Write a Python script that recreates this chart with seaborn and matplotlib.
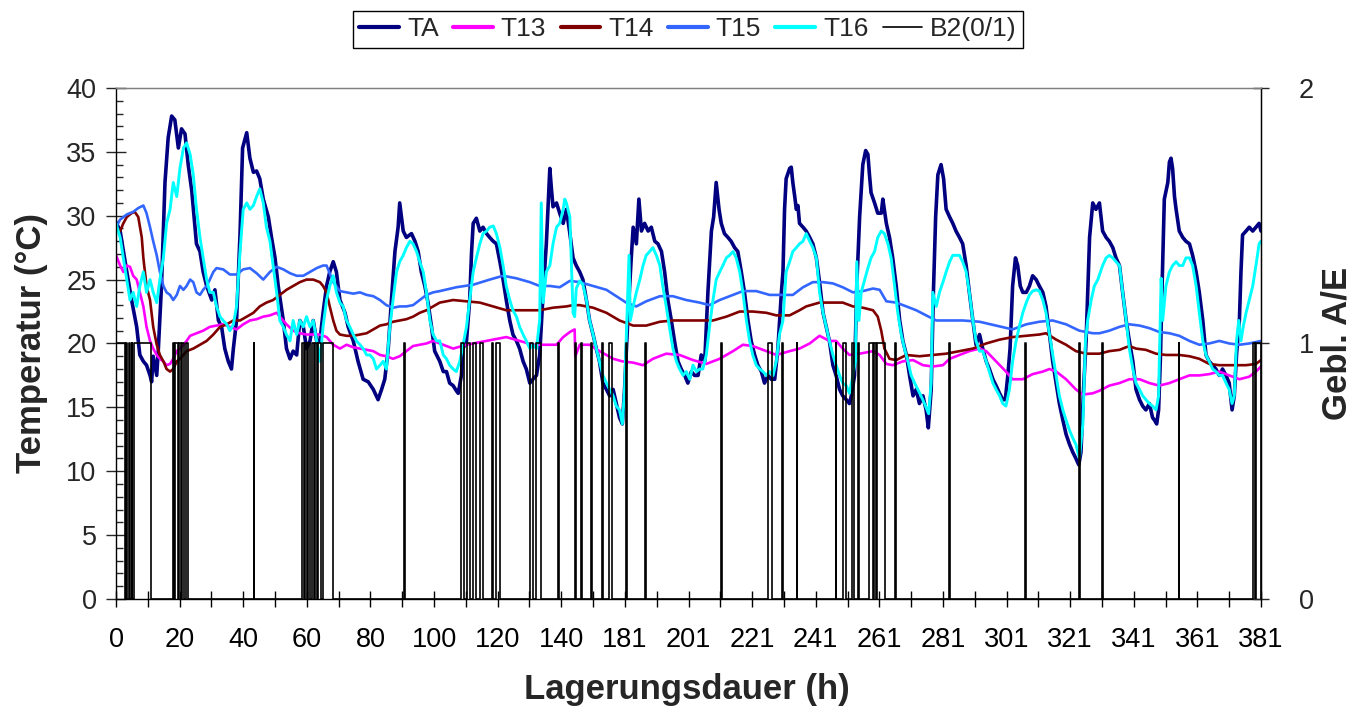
import numpy as np
import pandas as pd
import seaborn as sns
import matplotlib
matplotlib.use("Agg")
import matplotlib.pyplot as plt
from matplotlib.lines import Line2D
from matplotlib.ticker import MultipleLocator, FixedLocator

# ---------------- data (x = position on the category axis, 0..360) ----------------
x_tick_pos = list(range(0, 361, 20))
x_tick_labels = ['0', '20', '40', '60', '80', '100', '120', '140', '181', '201', '221',
                 '241', '261', '281', '301', '321', '341', '361', '381']

TA = [(0, 29.5), (1.3, 28.8), (3.4, 25.6), (4.9, 23.4), (6.5, 21.3), (7.5, 19.1), (8.6, 18.6),
      (9.6, 18.3), (10.7, 17.5), (11.2, 17.0), (11.7, 19.0), (12.8, 17.5), (13.3, 19.5),
      (14.3, 24.5), (15.4, 32.6), (16.4, 36.1), (17.5, 37.8), (18.5, 37.5), (19.6, 35.3),
      (20.6, 36.8), (21.7, 36.4), (22.7, 34.0), (23.8, 32.0), (25.3, 27.8), (26.4, 27.2),
      (27.4, 25.6), (28.5, 24.5), (30.1, 23.4), (31.1, 24.2), (32.2, 21.8), (33.2, 21.3),
      (34.2, 19.6), (35.3, 18.6), (36.3, 18.0), (36.9, 19.6), (37.9, 21.8), (39.0, 28.6),
      (39.8, 35.3), (41.1, 36.5), (42.1, 34.5), (43.2, 33.4), (44.2, 33.5), (45.2, 32.9),
      (46.3, 31.3), (47.9, 29.9), (48.9, 28.3), (50.0, 26.7), (51.0, 24.5), (52.6, 21.8),
      (53.6, 19.6), (54.7, 18.8), (55.7, 19.4), (56.8, 19.1), (57.8, 21.8), (58.9, 21.3),
      (59.9, 19.6), (61.0, 20.2), (62.0, 21.8), (63.1, 20.2), (64.1, 20.2), (65.1, 22.4),
      (66.2, 24.5), (67.2, 25.6), (68.3, 26.4), (69.3, 25.6), (70.4, 23.4), (72.0, 22.4),
      (73.0, 21.3), (74.6, 20.2), (76.1, 18.6), (77.7, 17.2), (79.3, 17.0), (80.9, 16.4),
      (82.4, 15.6), (83.5, 16.4), (84.5, 17.2), (85.6, 19.6), (86.6, 23.4), (87.7, 27.2),
      (88.7, 29.1), (89.2, 31.0), (90.3, 28.8), (91.3, 28.3), (92.9, 28.6), (94.0, 28.0),
      (95.0, 27.2), (96.0, 25.6), (97.1, 24.5), (98.1, 23.2), (99.2, 21.3), (100.2, 19.4),
      (101.8, 18.6), (102.9, 17.8), (103.9, 17.8), (104.9, 16.9), (106.0, 16.7), (107.0, 16.3),
      (107.6, 16.1), (108.6, 17.5), (109.1, 19.6), (110.2, 20.2), (111.2, 23.4), (111.8, 27.2),
      (112.3, 29.4), (113.3, 29.8), (114.4, 28.8), (115.4, 29.1), (116.5, 28.6), (117.5, 28.3),
      (118.6, 28.0), (119.6, 27.8), (120.7, 26.4), (121.7, 25.0), (122.7, 23.4), (123.8, 21.8),
      (124.8, 20.7), (125.9, 20.2), (126.9, 19.6), (128.0, 18.6), (129.0, 18.0), (130.1, 16.9),
      (131.1, 17.2), (132.2, 17.5), (133.2, 19.1), (134.3, 24.0), (135.3, 27.8), (136.4, 33.7),
      (136.9, 32.1), (137.4, 30.7), (138.5, 31.0), (139.5, 30.2), (140.6, 29.4), (141.6, 30.5),
      (142.7, 28.6), (143.7, 26.7), (144.7, 26.1), (145.8, 25.6), (146.8, 25.0), (147.9, 23.4),
      (148.9, 21.8), (150.0, 20.7), (151.0, 19.6), (152.0, 18.6), (153.1, 16.9), (154.2, 16.4),
      (155.2, 15.9), (156.3, 16.4), (157.3, 15.3), (158.3, 14.2), (159.2, 13.7), (159.9, 16.4),
      (160.9, 21.8), (162.0, 26.7), (162.6, 29.1), (163.6, 27.8), (164.4, 31.3), (165.2, 28.8),
      (166.2, 29.4), (167.3, 28.8), (168.3, 29.1), (169.4, 28.0), (170.4, 27.8), (171.5, 27.2),
      (172.5, 25.6), (173.5, 23.4), (174.6, 21.8), (175.6, 20.2), (176.7, 18.6), (177.7, 18.0),
      (178.8, 17.5), (179.8, 16.9), (180.9, 17.8), (181.9, 17.5), (183.0, 17.5), (184.0, 19.1),
      (185.1, 18.6), (186.1, 24.0), (187.2, 28.8), (187.9, 29.9), (188.7, 32.6), (189.6, 30.5),
      (190.3, 29.4), (191.3, 28.6), (192.4, 28.3), (193.4, 28.0), (194.5, 27.5), (195.5, 27.2),
      (196.6, 25.6), (197.6, 24.0), (198.7, 21.8), (199.7, 20.2), (200.8, 19.1), (201.8, 18.3),
      (202.9, 17.8), (203.9, 16.9), (205.0, 17.5), (206.0, 17.2), (207.1, 17.2), (208.1, 19.6),
      (209.2, 24.0), (209.7, 25.6), (210.2, 30.5), (210.7, 32.9), (211.8, 33.7), (212.3, 33.8),
      (212.8, 32.6), (213.4, 31.5), (213.9, 30.5), (214.4, 30.8), (214.9, 29.4), (216.0, 29.1),
      (217.0, 28.8), (218.1, 28.3), (219.1, 27.8), (220.2, 26.7), (221.2, 24.8), (222.3, 22.4),
      (223.3, 21.3), (224.3, 20.2), (225.4, 18.3), (226.4, 17.5), (227.5, 16.4), (228.5, 15.9),
      (229.6, 15.6), (230.6, 15.3), (231.2, 15.9), (232.2, 17.5), (232.9, 24.5), (233.8, 29.9),
      (234.8, 34.0), (235.7, 35.1), (236.4, 34.8), (236.9, 33.2), (237.4, 31.8), (238.5, 31.0),
      (239.5, 30.2), (240.6, 30.2), (241.1, 31.3), (242.2, 29.4), (243.2, 28.3), (244.2, 26.7),
      (245.3, 24.5), (246.4, 21.8), (247.4, 20.2), (248.5, 19.1), (249.5, 17.5), (250.6, 15.9),
      (251.6, 16.4), (252.6, 15.3), (253.7, 15.9), (254.7, 14.8), (255.4, 13.4), (256.3, 16.4),
      (257.0, 24.0), (257.7, 29.9), (258.4, 33.2), (259.4, 34.0), (260.2, 32.9), (261.0, 30.5),
      (262.1, 29.9), (263.1, 29.4), (264.1, 28.8), (265.2, 28.3), (266.2, 27.8), (267.3, 26.1),
      (268.3, 24.0), (269.4, 21.8), (270.4, 19.9), (271.5, 20.7), (272.5, 19.6), (273.6, 18.6),
      (274.6, 18.0), (275.7, 17.2), (276.7, 16.7), (277.8, 16.1), (278.8, 15.6), (279.6, 15.6),
      (280.4, 17.5), (281.1, 19.6), (281.9, 24.5), (282.8, 26.7), (283.5, 26.1), (284.3, 24.5),
      (285.1, 24.0), (286.2, 24.0), (287.2, 24.5), (288.2, 25.3), (289.3, 25.0), (290.3, 24.5),
      (291.4, 24.0), (292.4, 22.9), (293.5, 20.7), (294.5, 18.6), (295.6, 16.9), (296.6, 15.3),
      (297.7, 14.0), (298.7, 12.9), (299.8, 12.1), (300.8, 11.5), (301.8, 11.0), (302.7, 10.5),
      (303.4, 11.5), (304.2, 16.4), (305.0, 20.2), (306.1, 28.3), (307.1, 31.0), (308.1, 30.5),
      (309.2, 31.0), (310.2, 28.8), (311.3, 28.3), (312.3, 28.0), (313.4, 27.5), (314.4, 26.7),
      (315.5, 26.1), (316.5, 24.0), (317.6, 21.8), (318.6, 20.2), (319.7, 18.6), (320.7, 16.4),
      (321.8, 15.6), (322.8, 15.1), (323.8, 14.8), (324.9, 15.3), (325.9, 14.2), (326.5, 14.0),
      (327.2, 13.7), (327.8, 14.8), (328.4, 19.1), (328.9, 24.5), (329.6, 31.3), (330.7, 32.6),
      (331.2, 34.2), (331.7, 34.5), (332.2, 33.7), (332.8, 31.5), (333.3, 30.5), (334.3, 28.8),
      (335.4, 28.3), (336.4, 28.0), (337.5, 27.8), (338.5, 26.9), (339.6, 25.6), (340.6, 24.0),
      (341.7, 21.8), (342.7, 19.1), (343.7, 18.6), (344.8, 18.3), (345.8, 18.0), (346.9, 17.5),
      (347.9, 18.0), (349.0, 17.5), (350.0, 16.9), (350.9, 14.8), (351.6, 15.9), (352.3, 19.1),
      (353.2, 21.8), (353.7, 25.6), (354.2, 28.5), (355.3, 28.8), (356.3, 29.1), (357.4, 28.8),
      (358.4, 29.1), (359.4, 29.4), (360, 28.8)]

T13 = [(0, 26.9), (1.3, 26.1), (2.3, 25.6), (3.4, 26.1), (4.4, 26.0), (5.4, 25.3), (6.5, 25.0),
       (7.5, 24.0), (8.1, 23.4), (8.6, 22.9), (9.6, 21.3), (10.7, 20.2), (11.7, 19.6), (12.8, 19.1),
       (13.8, 18.8), (14.9, 18.6), (15.9, 18.3), (17.0, 18.4), (18.0, 18.8), (19.1, 19.4),
       (20.1, 19.6), (21.2, 19.9), (22.2, 20.2), (23.3, 20.6), (25.3, 20.8), (27.4, 21.0),
       (29.5, 21.3), (31.6, 21.4), (33.7, 21.5), (35.8, 21.3), (37.9, 21.1), (40.0, 21.5),
       (42.1, 21.8), (44.2, 21.9), (46.3, 22.1), (48.4, 22.2), (50.5, 22.4), (51.5, 22.1),
       (53.6, 21.5), (55.7, 21.0), (57.8, 20.8), (59.9, 20.7), (62.0, 20.7), (64.1, 20.7),
       (66.2, 20.5), (68.3, 19.9), (70.4, 19.6), (72.5, 19.9), (74.6, 19.7), (76.7, 19.6),
       (78.8, 19.5), (80.9, 19.4), (83.0, 19.1), (85.0, 19.0), (87.1, 18.8), (89.2, 19.0),
       (91.3, 19.4), (93.4, 19.8), (95.5, 19.9), (97.6, 20.0), (99.7, 20.2), (101.8, 20.0),
       (106.0, 19.6), (110.2, 19.9), (114.4, 20.1), (118.6, 20.3), (122.7, 20.5), (126.9, 20.2),
       (131.1, 19.9), (135.3, 19.9), (138.5, 19.9), (140.6, 20.5), (142.7, 20.9), (144.2, 21.1),
       (144.4, 19.0), (145.8, 19.9), (148.9, 19.9), (152.0, 19.4), (154.2, 19.1), (156.3, 18.8),
       (159.2, 18.6), (162.6, 18.5), (165.7, 18.3), (168.8, 18.8), (173.0, 19.2), (177.2, 19.1),
       (181.4, 18.7), (185.6, 18.4), (189.8, 18.8), (194.0, 19.4), (197.1, 19.9), (200.2, 19.8),
       (204.5, 19.4), (207.6, 19.1), (211.8, 19.4), (214.9, 19.6), (218.1, 20.0), (221.2, 20.6),
       (224.3, 20.2), (226.4, 20.2), (228.5, 19.6), (230.6, 19.1), (233.8, 19.2), (238.0, 19.4),
       (240.1, 19.1), (242.2, 18.4), (244.2, 18.3), (247.4, 18.6), (250.6, 18.7), (253.7, 18.3),
       (256.8, 18.2), (260.0, 18.3), (262.1, 18.8), (265.2, 19.1), (268.3, 19.4), (271.5, 19.6),
       (273.6, 19.4), (276.7, 18.6), (279.8, 17.8), (281.9, 17.2), (285.1, 17.2), (288.2, 17.6),
       (291.4, 17.8), (293.5, 18.0), (295.6, 17.8), (298.7, 17.2), (301.8, 16.4), (304.0, 16.0),
       (307.1, 16.1), (309.2, 16.3), (312.3, 16.7), (315.5, 16.9), (318.6, 17.2), (321.8, 17.2),
       (324.9, 16.9), (328.0, 16.7), (331.2, 16.9), (334.3, 17.2), (337.5, 17.5), (340.6, 17.5),
       (343.7, 17.6), (346.9, 17.8), (350.0, 17.5), (353.2, 17.2), (356.3, 17.4), (358.4, 17.8),
       (360, 18.2)]

T14 = [(0, 29.1), (1.3, 28.8), (2.3, 29.4), (3.4, 29.9), (4.9, 30.2), (5.9, 30.3), (7.0, 29.9),
       (8.1, 28.3), (8.6, 26.7), (9.6, 24.5), (10.7, 23.4), (11.7, 21.3), (12.8, 19.9), (13.8, 19.1),
       (14.9, 18.6), (15.9, 18.0), (17.0, 17.8), (18.0, 18.0), (19.1, 18.6), (20.1, 18.8),
       (21.2, 19.1), (22.2, 19.4), (24.3, 19.6), (26.4, 19.9), (28.5, 20.2), (30.6, 20.7),
       (32.7, 21.3), (34.8, 21.5), (36.9, 21.8), (39.0, 21.8), (41.1, 22.1), (43.2, 22.4),
       (45.2, 22.9), (47.3, 23.2), (49.4, 23.4), (51.5, 23.8), (53.6, 24.2), (55.7, 24.5),
       (57.8, 24.8), (59.9, 25.0), (62.0, 25.0), (64.1, 24.8), (65.1, 24.5), (66.2, 24.0),
       (67.2, 22.9), (68.3, 21.8), (69.3, 21.0), (70.4, 20.7), (72.5, 20.6), (74.6, 20.6),
       (76.7, 20.7), (78.8, 20.8), (80.9, 21.1), (83.0, 21.4), (85.0, 21.5), (87.1, 21.7),
       (89.2, 21.8), (91.3, 21.9), (93.4, 22.1), (95.5, 22.4), (97.6, 22.6), (99.7, 22.9),
       (101.8, 23.2), (106.0, 23.4), (110.2, 23.3), (114.4, 23.2), (118.6, 22.9), (122.7, 22.6),
       (128.0, 22.6), (133.2, 22.6), (137.4, 22.8), (141.6, 22.9), (143.7, 23.0), (145.8, 23.0),
       (150.0, 22.8), (154.2, 22.4), (158.3, 21.8), (162.6, 21.4), (166.7, 21.4), (171.0, 21.7),
       (175.1, 21.8), (179.3, 21.8), (183.5, 21.8), (187.7, 21.8), (191.9, 22.1), (196.1, 22.5),
       (200.2, 22.5), (204.5, 22.4), (207.6, 22.2), (211.8, 22.2), (214.9, 22.6), (217.0, 22.9),
       (221.2, 23.2), (225.4, 23.2), (228.5, 23.2), (231.7, 22.9), (234.8, 22.8), (238.0, 22.6),
       (239.5, 22.1), (240.6, 21.0), (241.6, 19.6), (243.2, 18.8), (245.3, 18.7), (248.5, 19.1),
       (252.6, 19.0), (256.8, 19.1), (261.0, 19.2), (265.2, 19.4), (269.4, 19.6), (273.6, 20.0),
       (277.8, 20.3), (281.9, 20.5), (286.2, 20.6), (290.3, 20.7), (292.4, 20.8), (295.6, 20.3),
       (298.7, 19.9), (301.8, 19.4), (305.0, 19.2), (309.2, 19.2), (312.3, 19.4), (315.5, 19.5),
       (318.6, 19.8), (320.7, 19.6), (323.8, 19.5), (327.0, 19.2), (330.1, 19.1), (334.3, 19.1),
       (337.5, 19.0), (340.6, 18.8), (343.7, 18.4), (346.9, 18.3), (351.1, 18.3), (355.3, 18.3),
       (358.4, 18.4), (360, 18.7)]

T15 = [(0, 29.1), (1.3, 29.7), (3.4, 30.1), (5.4, 30.3), (7.0, 30.6), (8.6, 30.8), (9.6, 30.2),
       (10.7, 29.1), (11.7, 28.0), (12.8, 26.9), (13.8, 25.6), (14.9, 24.5), (15.9, 24.0),
       (17.0, 23.8), (18.0, 23.4), (19.1, 23.8), (20.1, 24.5), (21.2, 24.2), (22.2, 24.5),
       (23.3, 25.0), (24.3, 24.8), (25.3, 24.0), (26.4, 23.8), (27.4, 24.2), (28.5, 24.5),
       (29.5, 25.0), (30.6, 25.6), (31.6, 25.9), (33.7, 25.8), (35.8, 25.4), (37.9, 25.4),
       (40.0, 25.8), (42.1, 25.9), (44.2, 25.5), (46.3, 25.0), (48.4, 25.6), (50.5, 26.0),
       (52.6, 25.8), (54.7, 25.5), (56.8, 25.3), (58.9, 25.3), (61.0, 25.6), (63.1, 25.9),
       (65.1, 26.1), (66.2, 26.1), (68.3, 24.8), (70.4, 24.1), (72.5, 24.0), (74.6, 23.9),
       (76.7, 24.0), (78.8, 23.8), (80.9, 23.7), (83.0, 23.4), (85.0, 23.0), (87.1, 22.8),
       (89.2, 22.9), (91.3, 22.9), (93.4, 23.0), (95.5, 23.4), (97.6, 23.8), (99.7, 24.0),
       (101.8, 24.1), (107.0, 24.4), (112.3, 24.6), (117.5, 25.0), (121.7, 25.3), (125.9, 25.1),
       (130.1, 24.8), (133.2, 24.5), (136.4, 24.5), (139.5, 24.4), (142.7, 24.9), (145.8, 24.8),
       (150.0, 24.5), (154.2, 24.2), (157.3, 23.7), (160.4, 23.2), (163.6, 22.9), (166.7, 23.3),
       (171.0, 23.7), (175.1, 23.7), (179.3, 23.4), (183.5, 23.2), (186.6, 23.0), (189.8, 23.4),
       (194.0, 23.8), (197.1, 24.1), (201.3, 24.1), (205.5, 23.8), (208.6, 23.8), (212.8, 23.8),
       (216.0, 24.4), (219.1, 24.8), (222.3, 24.8), (225.4, 24.7), (228.5, 24.4), (231.7, 24.0),
       (234.8, 24.1), (238.0, 24.3), (240.1, 24.2), (242.2, 23.3), (245.3, 23.2), (248.5, 22.9),
       (251.6, 22.6), (254.7, 22.2), (257.9, 21.8), (261.0, 21.8), (266.2, 21.8), (271.5, 21.7),
       (276.7, 21.4), (281.9, 21.1), (286.2, 21.5), (290.3, 21.7), (294.5, 21.8), (298.7, 21.5),
       (302.9, 21.0), (307.1, 20.8), (309.2, 20.8), (312.3, 21.0), (315.5, 21.3), (318.6, 21.5),
       (321.8, 21.4), (324.9, 21.2), (328.0, 20.9), (331.2, 20.8), (334.3, 20.6), (337.5, 20.2),
       (340.6, 19.9), (343.7, 20.0), (346.9, 20.2), (350.0, 20.0), (353.2, 19.9), (356.3, 20.0),
       (360, 20.2)]

T16 = [(0, 29.4), (1.3, 28.3), (2.3, 26.7), (3.4, 25.0), (4.4, 23.4), (5.4, 24.0), (6.5, 22.9),
       (7.5, 24.5), (8.6, 25.6), (9.6, 24.0), (10.7, 25.0), (11.7, 24.0), (12.8, 23.2), (13.8, 25.0),
       (14.9, 26.7), (15.9, 29.4), (17.0, 30.5), (18.0, 32.6), (19.1, 31.5), (20.1, 33.7),
       (21.2, 35.3), (22.2, 35.7), (23.3, 34.8), (24.3, 33.2), (25.3, 30.5), (26.4, 28.3),
       (27.4, 26.7), (28.5, 25.0), (29.5, 24.0), (30.6, 24.0), (31.6, 22.9), (32.7, 22.1),
       (33.7, 21.8), (34.8, 21.5), (35.8, 21.0), (36.9, 21.5), (37.9, 22.9), (39.0, 27.2),
       (40.0, 30.5), (41.1, 31.0), (42.1, 30.5), (43.2, 30.8), (44.2, 31.5), (45.2, 32.1),
       (46.3, 31.0), (47.3, 29.1), (48.4, 28.0), (49.4, 26.1), (50.5, 24.0), (51.5, 21.8),
       (52.6, 21.3), (53.6, 20.7), (54.7, 20.2), (55.7, 21.8), (56.8, 20.7), (57.8, 21.8),
       (58.9, 21.3), (59.9, 22.1), (61.0, 21.3), (62.0, 21.8), (63.1, 20.2), (64.1, 18.6),
       (65.1, 21.3), (66.2, 23.4), (67.2, 24.5), (68.3, 25.3), (69.3, 24.0), (70.4, 23.2),
       (71.4, 22.9), (72.5, 21.8), (73.5, 21.3), (74.6, 20.7), (75.6, 20.2), (76.7, 19.9),
       (77.7, 19.6), (78.8, 19.1), (79.8, 19.1), (80.9, 18.8), (81.9, 18.0), (83.0, 18.3),
       (84.0, 18.6), (85.0, 18.0), (86.1, 21.3), (87.1, 23.4), (88.2, 25.6), (89.2, 26.4),
       (90.3, 26.9), (91.3, 27.5), (92.4, 28.0), (93.4, 27.8), (94.5, 27.2), (95.5, 26.4),
       (96.6, 25.6), (97.6, 24.0), (98.7, 21.8), (99.7, 20.7), (100.8, 20.2), (101.8, 20.2),
       (102.9, 19.1), (103.9, 18.8), (104.9, 18.3), (106.0, 18.0), (107.0, 17.8), (108.1, 18.6),
       (109.1, 19.9), (110.2, 21.3), (111.2, 23.4), (112.3, 25.6), (113.3, 26.7), (114.4, 27.8),
       (115.4, 28.6), (116.5, 28.8), (117.5, 29.1), (118.6, 29.2), (119.6, 28.6), (120.7, 27.5),
       (121.7, 26.1), (122.7, 24.5), (123.8, 23.4), (124.8, 22.6), (125.9, 22.1), (126.9, 21.3),
       (128.0, 20.7), (129.0, 20.2), (130.1, 19.6), (131.1, 19.9), (132.2, 19.6), (133.2, 21.8),
       (133.7, 31.0), (134.3, 23.2), (135.3, 25.6), (136.4, 26.1), (137.4, 27.8), (138.5, 29.1),
       (139.5, 29.4), (140.6, 30.5), (141.1, 31.3), (141.6, 31.0), (142.7, 29.9), (143.7, 22.4),
       (144.2, 22.1), (144.7, 24.3), (145.8, 24.9), (146.8, 24.6), (147.9, 23.4), (148.9, 21.8),
       (150.0, 20.7), (151.0, 19.6), (152.0, 18.6), (153.1, 17.5), (154.2, 16.9), (155.2, 16.4),
       (156.3, 15.9), (157.3, 15.1), (158.3, 14.8), (159.2, 13.7), (159.9, 16.4), (160.4, 20.2),
       (161.3, 26.9), (161.7, 21.8), (162.6, 22.9), (163.6, 24.0), (164.7, 25.0), (165.7, 26.1),
       (166.7, 26.9), (167.8, 27.2), (168.8, 27.5), (169.9, 26.9), (171.0, 26.1), (171.9, 24.5),
       (173.0, 22.9), (174.0, 21.3), (175.1, 19.6), (176.2, 18.6), (177.2, 18.0), (178.3, 17.5),
       (179.3, 17.8), (180.4, 17.2), (181.4, 18.3), (182.5, 17.8), (183.5, 18.0), (184.5, 18.0),
       (185.6, 19.1), (186.6, 21.3), (187.7, 23.4), (188.7, 25.0), (189.8, 25.6), (190.8, 26.1),
       (191.9, 26.7), (192.9, 26.9), (194.0, 27.2), (195.0, 26.7), (196.1, 25.6), (197.1, 24.0),
       (198.2, 21.8), (199.2, 20.2), (200.2, 19.1), (201.3, 18.3), (202.4, 18.0), (203.4, 17.8),
       (204.5, 17.5), (205.5, 17.8), (206.6, 17.5), (207.6, 18.6), (208.6, 20.7), (209.7, 21.8),
       (210.7, 25.6), (211.8, 26.4), (212.8, 27.2), (213.9, 27.5), (214.9, 27.8), (216.0, 28.0),
       (217.0, 28.6), (218.1, 28.0), (219.1, 27.5), (220.2, 26.7), (221.2, 24.0), (222.3, 22.4),
       (223.3, 21.3), (224.3, 20.2), (225.4, 19.1), (226.4, 18.3), (227.5, 17.5), (228.5, 16.9),
       (229.6, 16.7), (230.6, 16.1), (231.7, 17.5), (232.5, 18.6), (232.9, 26.4), (233.6, 21.8),
       (234.3, 24.0), (235.4, 25.0), (236.4, 25.9), (237.4, 26.7), (238.5, 27.2), (239.5, 28.3),
       (240.6, 28.8), (241.6, 28.6), (242.7, 27.8), (243.7, 26.7), (244.8, 24.5), (245.8, 22.4),
       (246.9, 20.7), (247.9, 19.6), (249.0, 18.6), (250.0, 17.5), (251.1, 16.9), (252.1, 16.4),
       (253.1, 15.9), (254.2, 15.3), (255.5, 14.5), (256.3, 17.0), (256.8, 24.0), (257.9, 22.9),
       (258.9, 24.0), (260.0, 24.8), (261.0, 25.6), (262.1, 26.4), (263.1, 26.9), (264.1, 26.9),
       (265.2, 26.9), (266.2, 26.4), (267.3, 25.6), (268.3, 24.0), (269.4, 21.8), (270.4, 20.2),
       (271.5, 19.4), (272.5, 19.4), (273.6, 18.6), (274.6, 17.8), (275.7, 16.9), (276.7, 16.4),
       (277.8, 15.9), (278.8, 15.3), (279.8, 15.1), (280.9, 16.4), (281.9, 18.6), (283.0, 20.2),
       (284.0, 21.3), (285.1, 22.4), (286.2, 23.2), (287.2, 23.8), (288.2, 24.1), (289.3, 24.2),
       (290.3, 24.1), (291.4, 23.4), (292.4, 22.4), (293.5, 20.7), (294.5, 19.1), (295.6, 17.5),
       (296.6, 15.9), (297.7, 14.8), (298.7, 14.0), (299.8, 13.2), (300.8, 12.6), (301.8, 12.1),
       (302.9, 11.0), (304.0, 13.7), (304.8, 20.2), (305.5, 21.8), (306.6, 23.4), (307.6, 24.5),
       (308.7, 25.0), (310.2, 26.1), (311.3, 26.7), (312.3, 26.9), (313.4, 26.7), (314.4, 26.4),
       (315.5, 26.1), (316.5, 24.0), (317.6, 21.8), (318.6, 19.6), (319.7, 18.0), (320.7, 16.9),
       (321.8, 16.4), (322.8, 15.9), (323.8, 15.6), (324.9, 15.3), (325.9, 15.1), (327.0, 14.8),
       (327.8, 15.9), (328.6, 25.1), (329.1, 21.8), (330.1, 24.5), (331.2, 25.6), (332.2, 26.1),
       (333.3, 26.4), (334.3, 26.1), (335.4, 26.1), (336.4, 26.7), (337.5, 26.7), (338.5, 26.1),
       (339.6, 24.5), (340.6, 22.4), (341.7, 20.2), (342.7, 19.1), (343.7, 18.6), (344.8, 18.0),
       (345.8, 17.8), (346.9, 17.5), (347.9, 17.5), (349.0, 16.9), (350.0, 16.4), (350.9, 15.3),
       (351.6, 15.9), (352.3, 20.2), (353.0, 21.8), (353.7, 20.2), (354.4, 21.3), (355.3, 22.4),
       (356.3, 23.4), (357.4, 24.5), (358.4, 26.1), (359.4, 27.8), (360, 28.0)]

# B2 (0/1) fan state: intervals (start, end) during which it is 1
B2_on = [(0.0, 2.8), (3.3, 3.5), (4.1, 4.3), (4.9, 5.1), (5.7, 11.0),
         (17.8, 18.3), (18.7, 19.4), (19.8, 20.4), (20.8, 21.5), (21.9, 22.7), (43.3, 43.5),
         (58.5, 59.1), (59.5, 60.1), (60.5, 61.1), (61.5, 62.1), (62.5, 63.1), (63.5, 64.6),
         (65.0, 68.3), (90.5, 90.8), (108.6, 109.3), (110.2, 111.3), (112.3, 113.1),
         (114.4, 115.5), (118.1, 118.6), (119.5, 120.7), (130.1, 131.1), (132.2, 133.7),
         (139.0, 139.3), (144.4, 144.7), (146.1, 146.4), (149.3, 149.6), (152.9, 153.2),
         (155.0, 155.9), (160.2, 160.6), (166.3, 166.6), (190.1, 190.4), (204.9, 206.1),
         (209.5, 209.8), (214.0, 214.2), (226.3, 226.5), (228.5, 229.6), (231.5, 231.9),
         (233.2, 233.5), (236.9, 237.9), (238.3, 239.0), (239.3, 241.8), (244.9, 245.1),
         (262.0, 262.2), (285.9, 286.1), (302.9, 303.2), (310.0, 310.3), (334.1, 334.3),
         (357.6, 358.0), (358.4, 360.0)]

series_names = ['TA', 'T13', 'T14', 'T15', 'T16']
series_data = [TA, T13, T14, T15, T16]
series_colors = ['#000080', '#FF00FF', '#800000', '#3366FF', '#00FFFF']
series_widths = [2.6, 1.9, 1.9, 1.9, 2.1]

# ---------------- style ----------------
sns.set_style('white')
plt.rcParams['font.family'] = ['Liberation Sans', 'DejaVu Sans']

fig = plt.figure(figsize=(13.52, 7.14), dpi=100)
ax = fig.add_axes([0.0858, 0.1611, 0.8469, 0.7157])

for name, data, col, lw in zip(series_names, series_data, series_colors, series_widths):
    df = pd.DataFrame(data, columns=['pos', 'temp'])
    sns.lineplot(data=df, x='pos', y='temp', ax=ax, color=col, linewidth=lw,
                 estimator=None, sort=False, legend=False)

ax.set_xlim(0, 360)
ax.set_ylim(0, 40)
ax.xaxis.set_major_locator(FixedLocator(x_tick_pos))
ax.set_xticklabels(x_tick_labels)
ax.xaxis.set_minor_locator(MultipleLocator(10))
ax.yaxis.set_major_locator(MultipleLocator(5))
ax.yaxis.set_minor_locator(MultipleLocator(1))

ax.tick_params(axis='x', which='both', direction='inout', length=12, width=1.0,
               labelsize=19.5, pad=14, colors='black', bottom=True)
ax.tick_params(axis='y', which='major', direction='inout', length=14, width=1.0,
               labelsize=19.5, pad=7, left=True)
ax.tick_params(axis='y', which='minor', direction='in', length=5, width=1.0, left=True)

ax.set_xlabel('Lagerungsdauer (h)', fontsize=25, fontweight='bold')
ax.set_ylabel('Temperatur (°C)', fontsize=25, fontweight='bold')
ax.xaxis.set_label_coords(0.4985, -0.145)
ax.yaxis.set_label_coords(-0.059, 0.5)

for s in ['left', 'bottom', 'right']:
    ax.spines[s].set_color('black')
    ax.spines[s].set_linewidth(1.0)
ax.spines['top'].set_color('#808080')
ax.spines['top'].set_linewidth(1.0)

# secondary axis for the fan signal
ax2 = ax.twinx()
bx, by = [], []
for s, e in B2_on:
    bx += [s, s, e, e]
    by += [0, 1, 1, 0]
b2df = pd.DataFrame({'pos': bx, 'state': by})
sns.lineplot(data=b2df, x='pos', y='state', ax=ax2, color='black', linewidth=1.2,
             estimator=None, sort=False, legend=False)
ax2.set_ylim(0, 2)
ax2.set_xlim(0, 360)
ax2.yaxis.set_major_locator(FixedLocator([0, 1, 2]))
ax2.yaxis.set_minor_locator(FixedLocator([]))
ax2.tick_params(axis='y', which='major', direction='inout', length=12, width=1.0,
                labelsize=19.5, pad=21, right=True, left=False, labelright=True, labelleft=False)
ax2.set_ylabel('Gebl. A/E', fontsize=25, fontweight='bold', rotation=90)
ax2.yaxis.set_label_coords(1.052, 0.5)
ax2.spines['top'].set_color('#808080')
ax2.spines['right'].set_color('black')
ax2.spines['left'].set_visible(False)
ax2.spines['bottom'].set_visible(False)

# legend
handles = [Line2D([0], [0], color=c, lw=3.0) for c in series_colors]
handles.append(Line2D([0], [0], color='black', lw=1.2))
labels = series_names + ['B2(0/1)']
leg = fig.legend(handles, labels, loc='center', bbox_to_anchor=(0.509, 0.959), ncol=6,
                 fontsize=19, frameon=True, fancybox=False, framealpha=1, edgecolor='black',
                 handlelength=1.5, handletextpad=0.3, columnspacing=0.55, borderpad=0.25,
                 borderaxespad=0)
leg.get_frame().set_linewidth(1.0)

fig.savefig('out.png', dpi=100)
